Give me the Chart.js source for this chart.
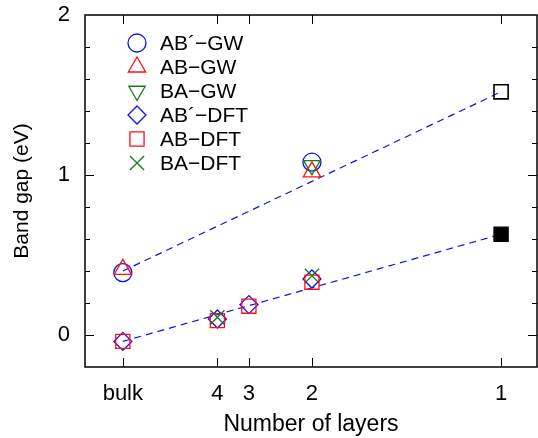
<!DOCTYPE html>
<html>
<head>
<meta charset="utf-8">
<script src="https://cdn.jsdelivr.net/npm/chart.js@4.4.0/dist/chart.umd.min.js"></script>
<style>
html, body { margin: 0; padding: 0; background: #fff; }
#wrap { width: 538px; height: 438px; }
</style>
</head>
<body>
<div id="wrap"><canvas id="gapChart"></canvas></div>
<script>
// x is 1/N, so bulk sits at 0
const layerLabels = ['bulk', '4', '3', '2', '1'];
const layerX = [0, 0.25, 0.3333, 0.5, 1];
const yLabelVals = [0, 1, 2];

const seriesNames = ['AB\u00b4\u2212GW', 'AB\u2212GW', 'BA\u2212GW', 'AB\u00b4\u2212DFT', 'AB\u2212DFT', 'BA\u2212DFT'];

// (eV)
const abpGwX = [0, 0.5];
const abpGwY = [0.39, 1.08];
const abGwX = [0, 0.5];
const abGwY = [0.41, 1.02];
const baGwX = [0.5];
const baGwY = [1.06];
const abpDftX = [0, 0.25, 0.3333, 0.5];
const abpDftY = [-0.04, 0.10, 0.19, 0.35];
const abDftX = [0, 0.25, 0.3333, 0.5];
const abDftY = [-0.04, 0.09, 0.18, 0.33];
const baDftX = [0.25, 0.5];
const baDftY = [0.11, 0.37];

// monolayer values (no legend entry)
const monoX = [1];
const monoGwY = [1.52];
const monoDftY = [0.63];

// dashed guide lines
const fitX = [0, 1];
const gwFitY = [0.40, 1.52];
const dftFitY = [-0.04, 0.63];

const BLUE = '#1010f0';
const RED = '#ff1010';
const GREEN = '#1a7a1a';
const FONT = '"Liberation Sans", Arial, Helvetica, sans-serif';

function pts(xs, ys) {
    return xs.map(function(x, i) { return { x: x, y: ys[i] }; });
}

function marker(label, xs, ys, color, style, radius, rotation) {
    return {
        type: 'scatter',
        label: label,
        data: pts(xs, ys),
        borderColor: color,
        backgroundColor: 'rgba(0,0,0,0)',
        pointStyle: style,
        pointRadius: radius,
        pointRotation: rotation || 0,
        pointBorderWidth: 1.3,
        showLine: false
    };
}

function guide(xs, ys) {
    return {
        type: 'line',
        label: '',
        data: pts(xs, ys),
        borderColor: BLUE,
        borderWidth: 1.2,
        borderDash: [7, 5],
        pointRadius: 0,
        fill: false,
        tension: 0,
        order: 20
    };
}

const markerSets = [
    marker(seriesNames[0], abpGwX, abpGwY, BLUE, 'circle', 9),
    marker(seriesNames[1], abGwX, abGwY, RED, 'triangle', 10),
    marker(seriesNames[2], baGwX, baGwY, GREEN, 'triangle', 9.5, 180),
    marker(seriesNames[3], abpDftX, abpDftY, BLUE, 'rectRot', 9),
    marker(seriesNames[4], abDftX, abDftY, RED, 'rect', 10),
    marker(seriesNames[5], baDftX, baDftY, GREEN, 'crossRot', 10)
];
// later series sit on top, as in the original plot
markerSets.forEach(function(ds, i) { ds.order = 10 - i; });

const monoOpen = marker('', monoX, monoGwY, '#000', 'rect', 10);
monoOpen.pointBorderWidth = 1.6;
const monoFilled = marker('', monoX, monoDftY, '#000', 'rect', 10);
monoFilled.backgroundColor = '#000';

// frame, inward ticks and the in-plot legend
const framePlugin = {
    id: 'frame',
    afterDraw: function(chart) {
        const ctx = chart.ctx;
        const a = chart.chartArea;
        const xs = chart.scales.x;
        const ys = chart.scales.y;
        ctx.save();
        ctx.strokeStyle = '#000';
        ctx.lineWidth = 1.5;
        ctx.strokeRect(a.left, a.top, a.right - a.left, a.bottom - a.top);

        ctx.lineWidth = 1;
        ctx.beginPath();
        layerX.forEach(function(v) {
            const px = Math.round(xs.getPixelForValue(v)) + 0.5;
            ctx.moveTo(px, a.bottom); ctx.lineTo(px, a.bottom - 9);
            ctx.moveTo(px, a.top); ctx.lineTo(px, a.top + 9);
        });
        for (let i = 1; i < 10; i++) {
            const v = i * 0.2;
            const len = (i % 5 === 0) ? 9 : 5;
            const py = Math.round(ys.getPixelForValue(v)) + 0.5;
            ctx.moveTo(a.left, py); ctx.lineTo(a.left + len, py);
            ctx.moveTo(a.right, py); ctx.lineTo(a.right - len, py);
        }
        const p0 = Math.round(ys.getPixelForValue(0)) + 0.5;
        ctx.moveTo(a.left, p0); ctx.lineTo(a.left + 9, p0);
        ctx.moveTo(a.right, p0); ctx.lineTo(a.right - 9, p0);
        ctx.stroke();

        // legend
        ctx.font = '21px ' + FONT;
        ctx.textBaseline = 'middle';
        ctx.textAlign = 'left';
        markerSets.forEach(function(ds, i) {
            const y = 43 + i * 24;
            ctx.save();
            ctx.strokeStyle = ds.borderColor;
            ctx.fillStyle = 'rgba(0,0,0,0)';
            ctx.lineWidth = ds.pointBorderWidth;
            Chart.helpers.drawPoint(ctx, {
                pointStyle: ds.pointStyle,
                radius: ds.pointRadius,
                rotation: ds.pointRotation,
                borderWidth: ds.pointBorderWidth
            }, 137, y);
            ctx.restore();
            ctx.fillStyle = '#000';
            ctx.fillText(ds.label, 160, y + 1);
        });
        ctx.restore();
    }
};

Chart.defaults.font.family = FONT;
Chart.defaults.font.size = 22;
Chart.defaults.color = '#000';

new Chart(document.getElementById('gapChart'), {
    type: 'scatter',
    data: {
        datasets: markerSets.concat([monoOpen, monoFilled, guide(fitX, gwFitY), guide(fitX, dftFitY)])
    },
    options: {
        responsive: true,
        maintainAspectRatio: false,
        animation: false,
        events: [],
        layout: { autoPadding: false, padding: { top: 15, right: 1, left: 0, bottom: 0 } },
        plugins: {
            legend: { display: false },
            tooltip: { enabled: false }
        },
        scales: {
            x: {
                type: 'linear',
                min: -0.1,
                max: 1.095,
                grid: { display: false, drawTicks: false },
                border: { display: false },
                afterBuildTicks: function(scale) {
                    scale.ticks = layerX.map(function(v) { return { value: v }; });
                },
                afterFit: function(scale) {
                    scale.height = 71;
                    scale.paddingLeft = 0;
                    scale.paddingRight = 0;
                },
                ticks: {
                    padding: 14,
                    maxRotation: 0,
                    autoSkip: false,
                    callback: function(value) {
                        const i = layerX.indexOf(value);
                        return i >= 0 ? layerLabels[i] : '';
                    }
                },
                title: {
                    display: true,
                    text: 'Number of layers',
                    font: { size: 23 },
                    padding: { top: 0, bottom: 0 }
                }
            },
            y: {
                min: -0.2,
                max: 2,
                grid: { display: false, drawTicks: false },
                border: { display: false },
                afterBuildTicks: function(scale) {
                    scale.ticks = yLabelVals.map(function(v) { return { value: v }; });
                },
                afterFit: function(scale) {
                    scale.width = 85;
                    scale.paddingTop = 0;
                    scale.paddingBottom = 0;
                },
                ticks: {
                    padding: 15,
                    callback: function(value) { return String(value); }
                },
                title: {
                    display: true,
                    text: 'Band gap (eV)',
                    font: { size: 21 },
                    padding: { top: 10, bottom: 0 }
                }
            }
        }
    },
    plugins: [framePlugin]
});
</script>
</body>
</html>
